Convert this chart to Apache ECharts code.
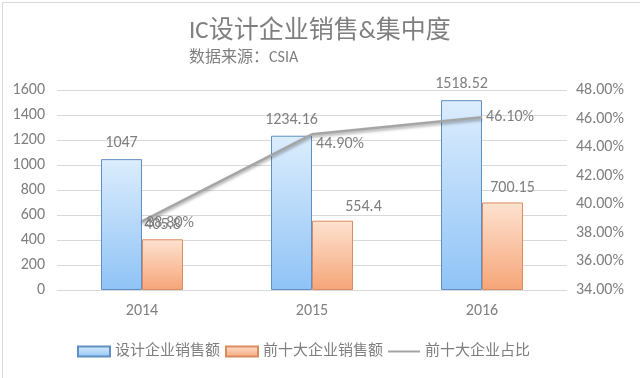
<!DOCTYPE html>
<html>
<head>
<meta charset="utf-8">
<script src="https://cdn.jsdelivr.net/npm/echarts@6/dist/echarts.min.js"></script>
<style>
html, body { margin: 0; padding: 0; background: #fff; }
#main { width: 640px; height: 378px; }
</style>
</head>
<body>
<div id="main"></div>
<script>
// 数据
const years = ['2014', '2015', '2016'];
const designSales = [1047, 1234.16, 1518.52];
const topTenSales = [405.8, 554.4, 700.15];
const topTenShare = [38.80, 44.90, 46.10];

const gray = '#7f7f7f';
const font = 'Calibri, "Noto Sans CJK SC", sans-serif';

// 标签在原图中被手动挪过的位置
const topTenLabelShift = [[0, 0], [31, 0], [10, 0]];
const shareLabelShift = [[0, 2], [0, 10], [0, 0]];

const option = {
    animation: false,
    backgroundColor: '#fff',
    textStyle: { fontFamily: font },
    title: {
        text: 'IC设计企业销售&集中度',
        subtext: '数据来源：CSIA',
        left: 184, top: 14, itemGap: 6,
        textStyle: { color: gray, fontSize: 25, fontWeight: 'normal', fontFamily: font },
        subtextStyle: { color: gray, fontSize: 16, fontFamily: font }
    },
    legend: {
        bottom: 14, left: 72, itemWidth: 32, itemHeight: 10, itemGap: 5,
        textStyle: { color: gray, fontSize: 15, fontFamily: font },
        data: [
            { name: '设计企业销售额', icon: 'rect' },
            { name: '前十大企业销售额', icon: 'rect' },
            { name: '前十大企业占比', icon: 'path://M0,4 L32,4 L32,6 L0,6 Z', itemStyle: { color: '#a5a5a5' } }
        ]
    },
    grid: { left: 57, right: 73, top: 90, bottom: 88 },
    xAxis: {
        type: 'category', data: years,
        axisTick: { show: false },
        axisLine: { lineStyle: { color: '#d9d9d9' } },
        axisLabel: { color: gray, fontSize: 16, margin: 13 }
    },
    yAxis: [
        {
            type: 'value', min: 0, max: 1600, interval: 200,
            axisLabel: { color: gray, fontSize: 16, margin: 12, formatter: (v) => String(v) },
            splitLine: { lineStyle: { color: '#d9d9d9' } }
        },
        {
            type: 'value', min: 34, max: 48, interval: 2,
            axisLabel: { color: gray, fontSize: 16, margin: 9, formatter: (v) => v.toFixed(2) + '%' },
            splitLine: { show: false }
        }
    ],
    series: [
        {
            name: '设计企业销售额', type: 'bar', barWidth: 41, barGap: '0%',
            data: designSales,
            itemStyle: {
                borderColor: '#5f8fc4', borderWidth: 1,
                color: new echarts.graphic.LinearGradient(0, 0, 0, 1, [
                    { offset: 0, color: '#dcedfd' }, { offset: 1, color: '#8fc3f6' }
                ])
            },
            label: { show: true, position: 'top', distance: 8, color: gray, fontSize: 16 }
        },
        {
            name: '前十大企业销售额', type: 'bar', barWidth: 41,
            data: topTenSales.map((v, i) => ({
                value: v,
                label: { offset: topTenLabelShift[i] }
            })),
            itemStyle: {
                borderColor: '#d98c5f', borderWidth: 1,
                color: new echarts.graphic.LinearGradient(0, 0, 0, 1, [
                    { offset: 0, color: '#fde2d0' }, { offset: 1, color: '#f6a578' }
                ])
            },
            label: { show: true, position: 'top', distance: 6, color: gray, fontSize: 16 }
        },
        {
            name: '前十大企业占比', type: 'line', yAxisIndex: 1,
            data: topTenShare,
            symbol: 'circle', symbolSize: 0.1, showSymbol: true,
            itemStyle: { color: '#a5a5a5' },
            lineStyle: {
                color: '#a5a5a5', width: 2.5,
                shadowColor: 'rgba(0,0,0,0.35)', shadowBlur: 3, shadowOffsetY: 2
            },
            labelLayout: (p) => ({
                hideOverlap: false,
                dx: shareLabelShift[p.dataIndex][0],
                dy: shareLabelShift[p.dataIndex][1]
            }),
            label: {
                show: true, position: 'right', distance: 4, color: gray, fontSize: 16,
                formatter: (p) => p.value.toFixed(2) + '%'
            }
        }
    ],
    graphic: [{
        type: 'rect', left: 0, top: 0, silent: true,
        shape: { width: 639, height: 376 },
        style: { fill: 'none', stroke: '#d9d9d9', lineWidth: 1 }
    }]
};

echarts.init(document.getElementById('main')).setOption(option);
</script>
</body>
</html>
